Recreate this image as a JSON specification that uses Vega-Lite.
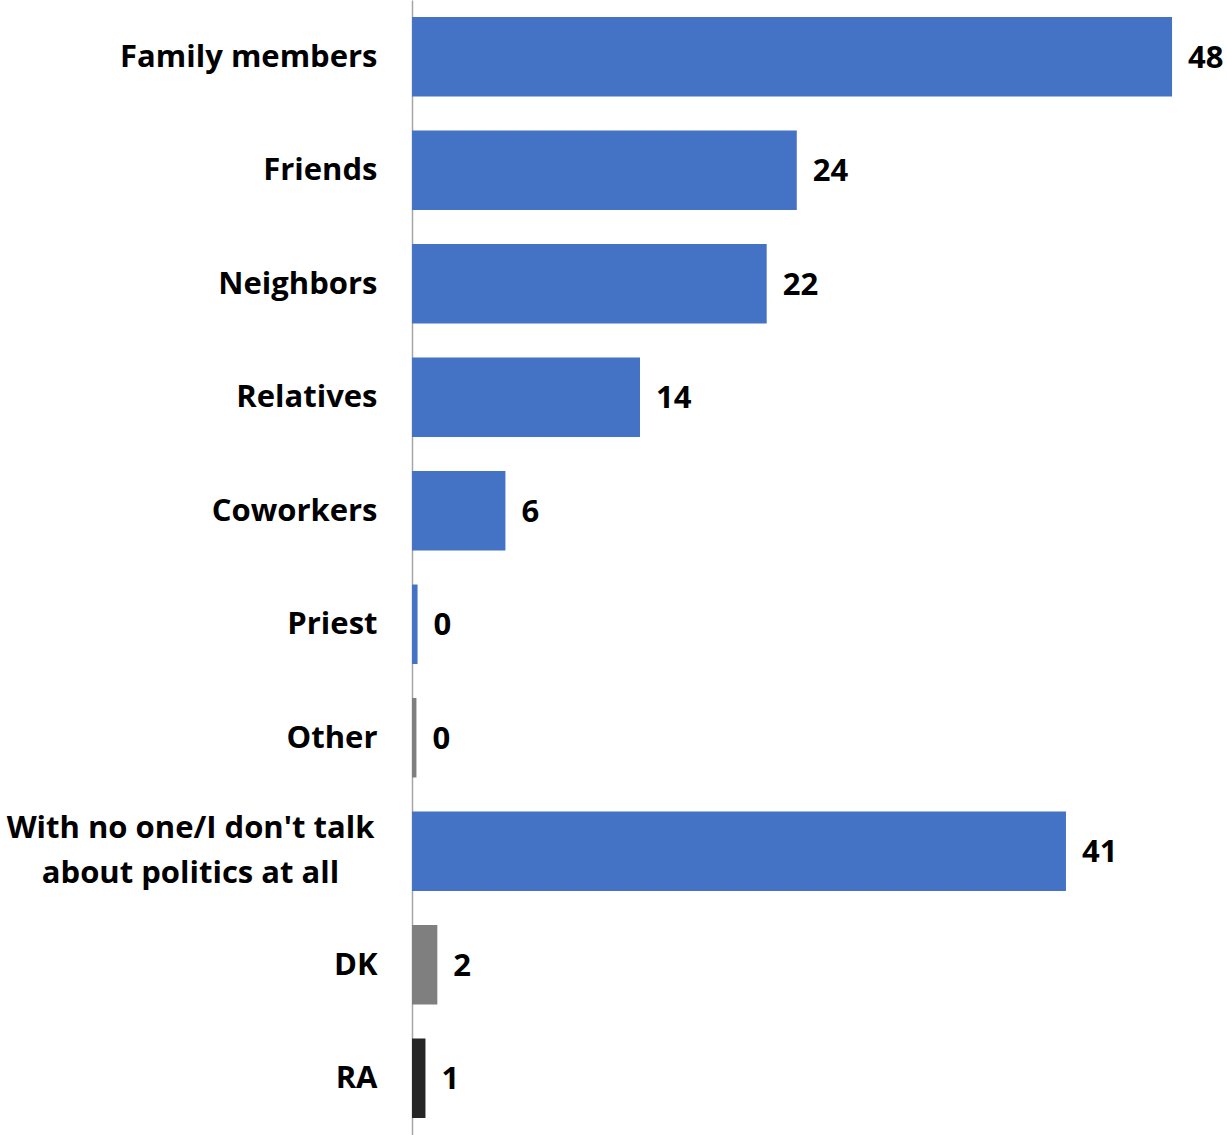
{
  "$schema": "https://vega.github.io/schema/vega-lite/v6.json",
  "autosize": {"type": "none"},
  "padding": {"left": 412, "top": 0, "right": 0, "bottom": 0},
  "width": 815,
  "height": 1135,
  "background": "white",
  "config": {"view": {"stroke": null}, "font": "Open Sans"},
  "data": {
    "values": [
      {"answer": "Family members", "pct": 48.0, "type": "main"},
      {"answer": "Friends", "pct": 24.3, "type": "main"},
      {"answer": "Neighbors", "pct": 22.4, "type": "main"},
      {"answer": "Relatives", "pct": 14.4, "type": "main"},
      {"answer": "Coworkers", "pct": 5.9, "type": "main"},
      {"answer": "Priest", "pct": 0.35, "type": "main"},
      {"answer": "Other", "pct": 0.28, "type": "other"},
      {"answer": "With no one/I don't talk|about politics at all", "pct": 41.3, "type": "main"},
      {"answer": "DK", "pct": 1.6, "type": "dk"},
      {"answer": "RA", "pct": 0.85, "type": "ra"}
    ]
  },
  "encoding": {
    "y": {
      "field": "answer",
      "type": "nominal",
      "sort": null,
      "scale": {"paddingInner": 0.3, "paddingOuter": 0.15},
      "axis": {
        "title": null,
        "ticks": false,
        "domainColor": "#A6A6A6",
        "domainWidth": 1.5,
        "labelFont": "Open Sans",
        "labelFontWeight": "bold",
        "labelFontSize": 31,
        "labelColor": "#000000",
        "labelLimit": 0,
        "labelLineHeight": 45,
        "labelExpr": "split(datum.label, '|')",
        "labelAlign": {"condition": {"test": "indexof(datum.value, '|') >= 0", "value": "center"}, "value": "right"},
        "labelPadding": {"condition": {"test": "indexof(datum.value, '|') >= 0", "value": 222}, "value": 35},
        "labelOffset": {"condition": {"test": "indexof(datum.value, '|') >= 0", "value": -22}, "value": 1}
      }
    },
    "x": {
      "field": "pct",
      "type": "quantitative",
      "scale": {"domain": [0, 51.47], "nice": false, "zero": true},
      "axis": null
    }
  },
  "layer": [
    {
      "mark": {"type": "bar"},
      "encoding": {
        "color": {
          "field": "type",
          "type": "nominal",
          "scale": {"domain": ["main", "other", "dk", "ra"], "range": ["#4472C4", "#7F7F7F", "#7F7F7F", "#262626"]},
          "legend": null
        }
      }
    },
    {
      "mark": {"type": "text", "align": "left", "baseline": "middle", "dx": 16, "dy": 2, "font": "Open Sans", "fontWeight": "bold", "fontSize": 31, "color": "#000000"},
      "encoding": {
        "text": {"field": "pct", "type": "quantitative", "format": ".0f"}
      }
    }
  ]
}
